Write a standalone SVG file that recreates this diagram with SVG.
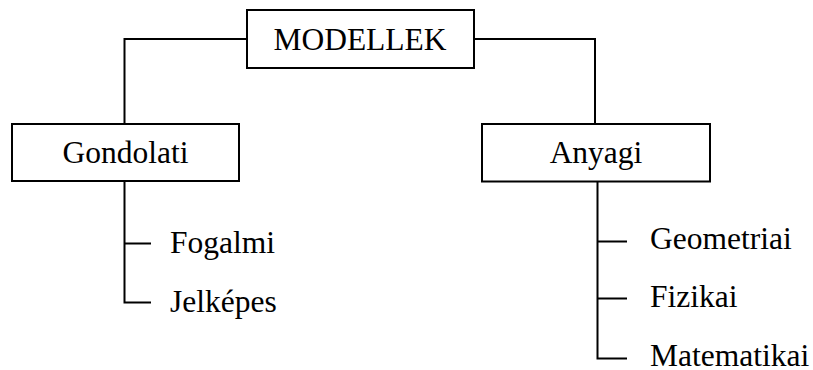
<svg xmlns="http://www.w3.org/2000/svg" width="813" height="370" viewBox="0 0 813 370">
<style>
.box{fill:#fff;stroke:#000;stroke-width:2}
.ln{fill:none;stroke:#000;stroke-width:2}
text{font-family:"Liberation Serif","Times New Roman",serif;font-size:31.5px;fill:#000}
.c{text-anchor:middle}
</style>
<rect width="813" height="370" fill="#fff"/>
<g id="connectors">
<path class="ln" d="M247,39 H124.5 V124"/>
<path class="ln" d="M474,39 H595 V124"/>
<path class="ln" d="M124.5,181 V302.5 H151 M124.5,243.5 H151"/>
<path class="ln" d="M597.5,181.5 V358.5 H627 M597.5,241.5 H627 M597.5,298.5 H627"/>
</g>
<g id="modellek"><rect class="box" x="247" y="10" width="227" height="58"/><text class="c" x="360" y="50">MODELLEK</text></g>
<g id="gondolati"><rect class="box" x="12" y="124" width="227" height="57"/><text class="c" x="125.5" y="163">Gondolati</text></g>
<g id="anyagi"><rect class="box" x="482" y="124" width="228" height="57.5"/><text class="c" x="596" y="163">Anyagi</text></g>
<g id="fogalmi"><text x="170" y="253">Fogalmi</text></g>
<g id="jelkepes"><text x="170" y="311.5">Jelképes</text></g>
<g id="geometriai"><text x="650" y="248.5">Geometriai</text></g>
<g id="fizikai"><text x="650" y="306.5">Fizikai</text></g>
<g id="matematikai"><text x="650" y="366">Matematikai</text></g>
</svg>
